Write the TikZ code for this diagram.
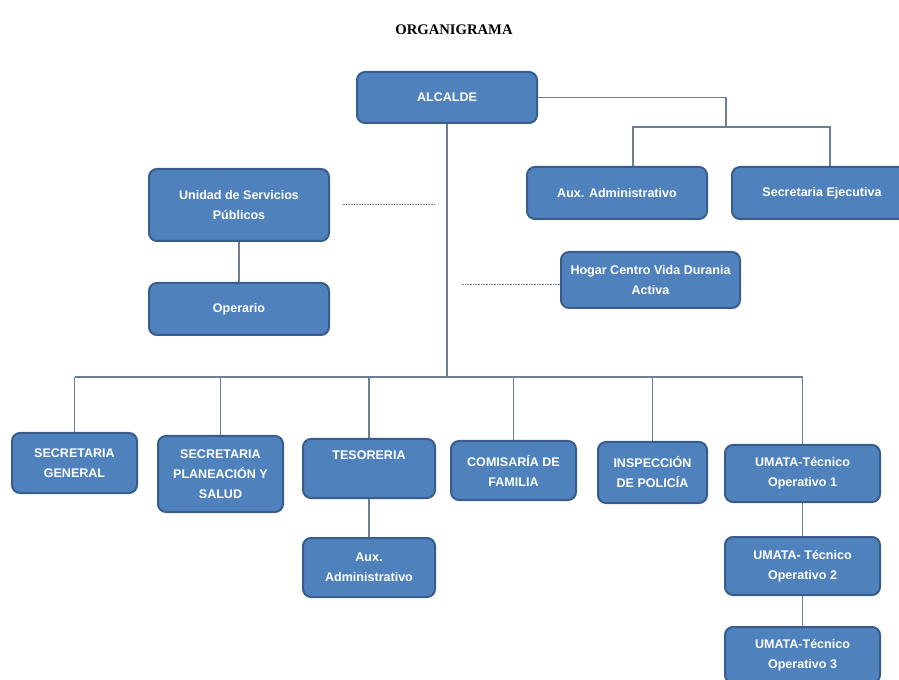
\documentclass[tikz,border=0pt]{standalone}
\usepackage{fontspec}
\setmainfont{Liberation Serif}
\setsansfont{Liberation Sans}
\usetikzlibrary{positioning}
\definecolor{boxfill}{RGB}{79,129,189}
\definecolor{boxline}{RGB}{56,93,138}
\definecolor{linkcolor}{RGB}{110,126,146}
\tikzset{
  unitbox/.style={
    draw=boxline,
    fill=boxfill,
    line width=1.5pt,
    rounded corners=6pt,
    text=white,
    align=center,
    inner sep=2pt,
    font=\sffamily\bfseries\fontsize{9.4}{15}\selectfont
  },
  link/.style={linkcolor, line width=0.8pt},
  dotlink/.style={
    linkcolor,
    line width=0.6pt,
    dash pattern=on 1.2pt off 0.8pt
  }
}

\begin{document}
\begin{tikzpicture}[x=0.75pt, y=-0.75pt]

  \useasboundingbox (0,0) rectangle (899,680);

  % Title.
  \node[font=\bfseries\fontsize{11}{13}\selectfont] (title) at (454,30)
    {ORGANIGRAMA};

  % Head of the chart and its direct staff.
  \node[unitbox, minimum width=135pt, minimum height=38.25pt]
    (alcalde) at (447,97.5) {ALCALDE};
  \node[unitbox, minimum width=135pt, minimum height=39pt]
    (auxadm) at (617,193) {Aux. Administrativo};
  \node[unitbox, minimum width=135pt, minimum height=39pt]
    (secej) at (822,193) {Secretaria Ejecutiva};

  % Side units.
  \node[unitbox, minimum width=135pt, minimum height=54pt]
    (unidad) at (239,205) {Unidad de Servicios\\Públicos};
  \node[unitbox, minimum width=135pt, minimum height=39pt]
    (operario) at (239,309) {Operario};
  \node[unitbox, minimum width=134.25pt, minimum height=42pt]
    (hogar) at (650.5,280) {Hogar Centro Vida Durania\\Activa};

  % Lower row of offices.
  \node[unitbox, minimum width=93.75pt, minimum height=45pt]
    (secgen) at (74.5,463) {SECRETARIA\\GENERAL};
  \node[unitbox, minimum width=93.75pt, minimum height=57pt]
    (secplan) at (220.5,474) {SECRETARIA\\PLANEACIÓN Y\\SALUD};
  \node[unitbox, minimum width=99pt, minimum height=44.25pt]
    (tesoreria) at (369,468.5) {TESORERIA\\\strut};
  \node[unitbox, minimum width=93.75pt, minimum height=44.25pt]
    (comisaria) at (513.5,470.5) {COMISARÍA DE\\FAMILIA};
  \node[unitbox, minimum width=81.75pt, minimum height=45.75pt]
    (inspeccion) at (652.5,472.5) {INSPECCIÓN\\DE POLICÍA};
  \node[unitbox, minimum width=116.25pt, minimum height=42.75pt]
    (umata1) at (802.5,473.5) {UMATA-Técnico\\Operativo 1};

  % Dependants of the lower row.
  \node[unitbox, minimum width=99pt, minimum height=44.25pt]
    (auxtes) at (369,567.5) {Aux.\\Administrativo};
  \node[unitbox, minimum width=116.25pt, minimum height=43.5pt]
    (umata2) at (802.5,566) {UMATA- Técnico\\Operativo 2};
  \node[unitbox, minimum width=116.25pt, minimum height=42pt]
    (umata3) at (802.5,655) {UMATA-Técnico\\Operativo 3};

  % Junction points of the connectors.
  \coordinate (bus) at (448,377);
  \coordinate (split) at (726,127);
  \coordinate (dotA) at (343,204);
  \coordinate (dotB) at (435,204);
  \coordinate (dotC) at (462,284);

  % Branch to the direct staff.
  \draw[link] (alcalde.east) -| (split);
  \draw[link] ([xshift=12pt]auxadm.north) |- (split)
    -| ([xshift=6pt]secej.north);

  % Trunk and bus to the lower row.
  \draw[link] (alcalde.south) -- (alcalde.south |- bus);
  \draw[link] (secgen.north |- bus) -- (umata1.north |- bus);
  \draw[link] (secgen.north |- bus) -- (secgen.north);
  \draw[link] (secplan.north |- bus) -- (secplan.north);
  \draw[link] (tesoreria.north |- bus) -- (tesoreria.north);
  \draw[link] (comisaria.north |- bus) -- (comisaria.north);
  \draw[link] (inspeccion.north |- bus) -- (inspeccion.north);
  \draw[link] (umata1.north |- bus) -- (umata1.north);

  % Vertical chains.
  \draw[link] (unidad) -- (operario);
  \draw[link] (tesoreria) -- (auxtes);
  \draw[link] (umata1) -- (umata2);
  \draw[link] (umata2) -- (umata3);

  % Dotted coordination lines.
  \draw[dotlink] (dotA) -- (dotB);
  \draw[dotlink] (dotC) -- (dotC -| hogar.west);

\end{tikzpicture}
\end{document}
